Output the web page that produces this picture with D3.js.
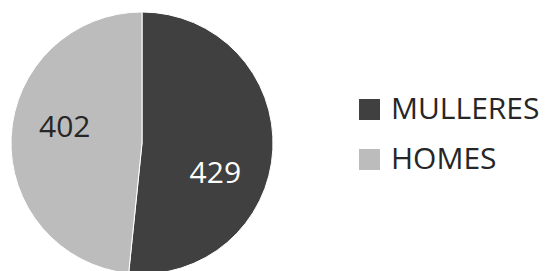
<!DOCTYPE html>
<html><head><meta charset="utf-8">
<script src="https://cdn.jsdelivr.net/npm/d3@7"></script>
<style>html,body{margin:0;padding:0;background:#fff;}svg{display:block;}</style>
</head><body>
<svg id="c" width="545" height="271"></svg>
<script>
const categories = ["MULLERES", "HOMES"];
const values = [429, 402];
const colors = ["#404040", "#bcbcbc"];
const labelColors = ["#ffffff", "#262626"];

const svg = d3.select("#c");
const cx = 142, cy = 143, r = 131;
const pie = d3.pie().sort(null).value(d => d.v);
const data = pie(categories.map((c, i) => ({c, v: values[i], i})));
const arc = d3.arc().innerRadius(0).outerRadius(r);
const g = svg.append("g").attr("transform", `translate(${cx},${cy})`);
g.selectAll("path").data(data).enter().append("path")
  .attr("d", arc).attr("fill", d => colors[d.data.i])
  .attr("stroke", "#fff").attr("stroke-width", 1);
// label placement: rotated past slice mid-angle, as in the original
const labelRot = [0.33, 0.16];
const labelR = 79;
g.selectAll("text").data(data).enter().append("text")
  .attr("transform", d => {
    const a = (d.startAngle + d.endAngle) / 2 + labelRot[d.data.i];
    return `translate(${labelR * Math.sin(a)},${-labelR * Math.cos(a)})`;
  })
  .attr("text-anchor", "middle").attr("dy", "0.36em")
  .attr("font-family", "'Open Sans', sans-serif").attr("font-size", 30)
  .attr("fill", d => labelColors[d.data.i])
  .text(d => d.data.v);

const lg = svg.append("g");
categories.forEach((c, i) => {
  const y = 99 + i * 50;
  lg.append("rect").attr("x", 359).attr("y", y).attr("width", 21).attr("height", 21).attr("fill", colors[i]);
  lg.append("text").attr("x", 391).attr("y", y + 19.5)
    .attr("font-family", "'Open Sans', sans-serif").attr("font-size", 30).attr("fill", "#262626").text(c);
});
</script>
</body></html>
